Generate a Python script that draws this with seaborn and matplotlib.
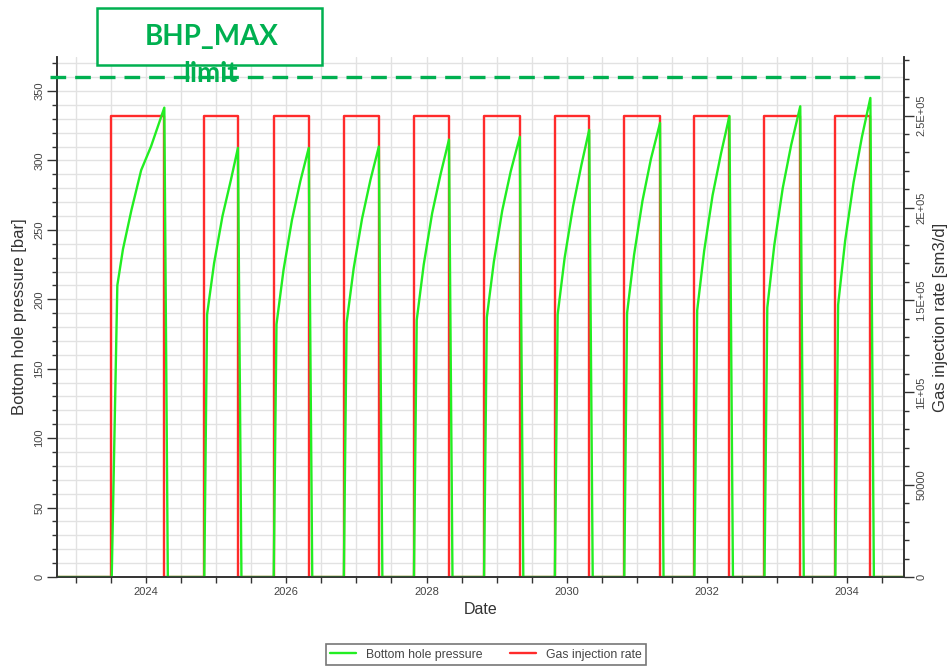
import matplotlib
matplotlib.use("Agg")
import matplotlib.pyplot as plt
from matplotlib.ticker import MultipleLocator, FixedLocator, FixedFormatter
from matplotlib.lines import Line2D
from matplotlib.patches import Rectangle
from matplotlib.transforms import Bbox, TransformedBbox
import seaborn as sns

sns.set_theme(style="ticks")
plt.rcParams["font.family"] = ["Liberation Sans", "DejaVu Sans"]

# Injection periods (decimal years) and constant injection rate
inj_start = [2023.50, 2024.83, 2025.82, 2026.82, 2027.82, 2028.82,
             2029.83, 2030.82, 2031.82, 2032.82, 2033.83]
inj_end = [2024.26, 2025.31, 2026.32, 2027.32, 2028.32, 2029.33,
           2030.32, 2031.33, 2032.32, 2033.33, 2034.33]
INJ_RATE = 250000
BHP_MAX = 360

# Bottom hole pressure history (decimal years, bar)
bhp_dates = [
    2022.70,
    2023.51, 2023.59, 2023.67, 2023.79, 2023.93, 2024.07, 2024.26, 2024.31,
    2024.83, 2024.87, 2024.97, 2025.09, 2025.21, 2025.31, 2025.36,
    2025.82, 2025.86, 2025.96, 2026.08, 2026.20, 2026.32, 2026.37,
    2026.82, 2026.86, 2026.96, 2027.08, 2027.20, 2027.32, 2027.37,
    2027.82, 2027.86, 2027.96, 2028.08, 2028.20, 2028.32, 2028.37,
    2028.82, 2028.86, 2028.96, 2029.08, 2029.20, 2029.33, 2029.38,
    2029.83, 2029.87, 2029.97, 2030.09, 2030.21, 2030.32, 2030.37,
    2030.82, 2030.86, 2030.96, 2031.08, 2031.20, 2031.33, 2031.38,
    2031.82, 2031.86, 2031.96, 2032.08, 2032.20, 2032.32, 2032.37,
    2032.82, 2032.86, 2032.96, 2033.08, 2033.20, 2033.33, 2033.38,
    2033.83, 2033.87, 2033.97, 2034.09, 2034.21, 2034.33, 2034.38,
    2034.90,
]
bhp_bar = [
    0,
    0, 210, 236, 264, 293, 310, 338, 0,
    0, 189, 226, 260, 286, 309, 0,
    0, 182, 221, 257, 285, 309, 0,
    0, 183, 222, 258, 286, 310, 0,
    0, 185, 225, 262, 290, 315, 0,
    0, 187, 227, 264, 292, 317, 0,
    0, 189, 230, 267, 297, 322, 0,
    0, 190, 232, 271, 301, 327, 0,
    0, 192, 235, 275, 305, 332, 0,
    0, 194, 239, 280, 311, 339, 0,
    0, 196, 242, 284, 317, 345, 0,
    0,
]

year_ticks = [2024, 2026, 2028, 2030, 2032, 2034]
bhp_ticks = [0, 50, 100, 150, 200, 250, 300, 350]
rate_ticks = [0, 50000, 100000, 150000, 200000, 250000]
rate_tick_labels = ["0", "50000", "1E+05", "1.5E+05", "2E+05", "2.5E+05"]

# Step series for the injection rate
rate_dates = [2022.70]
rate_vals = [0]
for s, e in zip(inj_start, inj_end):
    rate_dates += [s, e]
    rate_vals += [INJ_RATE, 0]
rate_dates.append(2034.90)
rate_vals.append(0)

GREEN = "#22EE22"
RED = "#FF2B2B"
LIMIT = "#00B050"
TXT = "#444444"
XLIM = (2022.73, 2034.81)
BHP_LIM = (0, 374.5)

fig = plt.figure(figsize=(9.49, 6.68), dpi=100)
rect = [0.0601, 0.1362, 0.8925, 0.7785]

# Background axes that only carries the grid, so the curves sit above it
grid_ax = fig.add_axes(rect)
grid_ax.set_xlim(*XLIM)
grid_ax.set_ylim(*BHP_LIM)
grid_ax.xaxis.set_major_locator(MultipleLocator(0.5))
grid_ax.yaxis.set_major_locator(MultipleLocator(10))
grid_ax.grid(True, color="#e2e2e2", linewidth=1.0)
grid_ax.tick_params(left=False, bottom=False, labelleft=False, labelbottom=False)
for sp in grid_ax.spines.values():
    sp.set_visible(False)
grid_ax.set_zorder(0)

ax = fig.add_axes(rect)
ax2 = ax.twinx()
ax2.set_zorder(1)
ax.set_zorder(2)
ax.patch.set_visible(False)
ax2.patch.set_visible(False)

sns.lineplot(x=rate_dates, y=rate_vals, ax=ax2, color=RED, linewidth=1.7,
             drawstyle="steps-post", estimator=None, sort=False)
sns.lineplot(x=bhp_dates, y=bhp_bar, ax=ax, color=GREEN, linewidth=1.7,
             estimator=None, sort=False)

# Maximum bottom hole pressure limit
ax.plot([2022.63, 2034.50], [BHP_MAX, BHP_MAX], color=LIMIT, lw=2.4,
        linestyle=(0, (4.7, 2.7)), clip_on=False, zorder=4)

ax.set_xlim(*XLIM)
ax.set_ylim(*BHP_LIM)
ax2.set_ylim(0, 281700)

ax.xaxis.set_major_locator(FixedLocator(year_ticks))
ax.xaxis.set_major_formatter(FixedFormatter([str(y) for y in year_ticks]))
ax.xaxis.set_minor_locator(MultipleLocator(0.5))
ax.yaxis.set_major_locator(FixedLocator(bhp_ticks))
ax.yaxis.set_minor_locator(MultipleLocator(10))
ax2.yaxis.set_major_locator(FixedLocator(rate_ticks))
ax2.yaxis.set_major_formatter(FixedFormatter(rate_tick_labels))
ax2.yaxis.set_minor_locator(MultipleLocator(10000))

for a in (ax, ax2):
    a.grid(False)
    a.spines["top"].set_visible(False)
    for sp in ("left", "right", "bottom"):
        a.spines[sp].set_color("#333333")
        a.spines[sp].set_linewidth(1.2)

ax.tick_params(axis="x", which="both", length=4, width=1, color="#333333",
               labelsize=8, labelcolor=TXT, pad=3)
ax.tick_params(axis="y", which="major", length=7, width=1, color="#333333",
               labelsize=8, labelcolor=TXT, labelrotation=90, pad=2)
ax.tick_params(axis="y", which="minor", length=3.5, width=1, color="#333333")
ax2.tick_params(axis="y", which="major", length=7, width=1, color="#333333",
                labelsize=8, labelcolor=TXT, labelrotation=90, pad=2)
ax2.tick_params(axis="y", which="minor", length=3.5, width=1, color="#333333")
for t in ax.get_yticklabels() + ax2.get_yticklabels():
    t.set_va("center")

ax.set_xlabel("Date", fontsize=11.5, color="#333333")
ax.set_ylabel("Bottom hole pressure [bar]", fontsize=12, color="#333333")
ax2.set_ylabel("Gas injection rate [sm3/d]", fontsize=12, color="#333333")
ax.xaxis.set_label_coords(0.5, -0.048)
ax.yaxis.set_label_coords(-0.036, 0.5)
ax2.yaxis.set_label_coords(1.034, 0.5)

handles = [Line2D([], [], color=GREEN, lw=1.7, label="Bottom hole pressure"),
           Line2D([], [], color=RED, lw=1.7, label="Gas injection rate")]
leg = fig.legend(handles=handles, loc="center", bbox_to_anchor=(0.512, 0.0202),
                 ncol=2, frameon=True, fancybox=False, edgecolor="#555555",
                 fontsize=8.8, handlelength=2.1, columnspacing=2.3,
                 borderpad=0.35, labelcolor=TXT)
leg.get_frame().set_linewidth(1.2)

# Limit annotation box; the caption's second line spills below the frame
fig.patches.append(Rectangle((0.1022, 0.9027), 0.2371, 0.0853,
                             transform=fig.transFigure, facecolor="white",
                             edgecolor=LIMIT, lw=1.8, zorder=5))
fig.text(0.2231, 0.945, "BHP_MAX", family="Lato", weight="bold", size=20,
         color=LIMIT, ha="center", va="center", zorder=6)
limit_txt = fig.text(0.222, 0.8772, "limit", family="Lato", weight="bold",
                     size=20, color=LIMIT, ha="center", va="baseline",
                     zorder=6)
limit_txt.set_clip_box(TransformedBbox(Bbox([[0, 0], [1, 1 - 61 / 668]]),
                                       fig.transFigure))
limit_txt.set_clip_on(True)

fig.savefig("out.png", dpi=100, facecolor="white")
